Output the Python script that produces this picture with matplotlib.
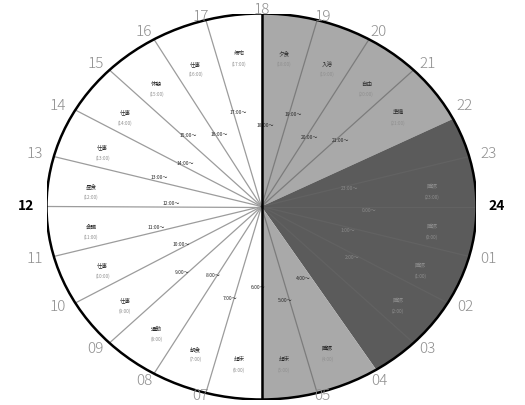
import matplotlib.pyplot as plt
import numpy as np
from matplotlib.patches import Ellipse, Wedge

plt.rcParams['font.family'] = ['Noto Sans CJK JP', 'DejaVu Sans']

# hour labels round the clock face (18 at the top, 24 on the right; 06 sits below the picture)
HOURS = [19, 20, 21, 22, 23, 24, 1, 2, 3, 4, 5, 7, 8, 9, 10, 11, 12, 13, 14, 15, 16, 17, 18]
HOUR_LABELS = ['19', '20', '21', '22', '23', '24', '01', '02', '03', '04', '05',
               '07', '08', '09', '10', '11', '12', '13', '14', '15', '16', '17', '18']

# shaded segments of the day (start hour, end hour)
SEG_START = [18.0, 22.2, 3.85, 6.0]
SEG_END = [22.2, 3.85, 6.0, 18.0]
SEG_COLORS = ['#a9a9a9', '#5b5b5b', '#a9a9a9', 'white']

# hour divider lines inside the shaded parts and the white half
DIVIDERS_LIGHT = [19, 20, 21, 5]
DIVIDERS_DARK = [23, 24, 1, 2, 3]
DIVIDERS_WHITE = [7, 8, 9, 10, 11, 12, 13, 14, 15, 16, 17]

# small notes written into each hour slot
SLOT_HOURS = [6, 7, 8, 9, 10, 11, 12, 13, 14, 15, 16, 17, 18, 19, 20, 21, 23, 0, 1, 2, 4, 5]
SLOT_NAMES = ['起床', '朝食', '通勤', '仕事', '仕事', '会議', '昼食', '仕事', '仕事', '休憩', '仕事',
              '帰宅', '夕食', '入浴', '自由', '準備', '睡眠', '睡眠', '睡眠', '睡眠', '睡眠', '起床']


def angle(h: float) -> float:
    return 90 - (h - 18) * 15  # clock hour -> degrees (counter-clockwise from the right)


def main() -> None:
    fig = plt.figure(figsize=(5.25, 4.05), dpi=100)
    ax = fig.add_axes([46.5 / 525, 5.5 / 405, 430 / 525, 386 / 405])  # the ellipse's bounding box
    ax.set_xlim(-1, 1)
    ax.set_ylim(-1, 1)
    ax.axis('off')

    for s, e, c in zip(SEG_START, SEG_END, SEG_COLORS):
        dur = (e - s) % 24
        a2 = angle(s)
        ax.add_patch(Wedge((0, 0), 1, a2 - dur * 15, a2, facecolor=c, edgecolor='none', zorder=1))

    for hours, col in ((DIVIDERS_WHITE, '#9c9c9c'), (DIVIDERS_LIGHT, '#7c7c7c'), (DIVIDERS_DARK, '#626262')):
        for h in hours:
            t = np.radians(angle(h))
            ax.plot([0, np.cos(t)], [0, np.sin(t)], color=col, lw=0.9, zorder=2)

    # notes inside the slots
    for i, (h, name) in enumerate(zip(SLOT_HOURS, SLOT_NAMES)):
        t = np.radians(angle(h + 0.5))
        dark = 22 <= h or h < 4
        tc = '#8a8a8a' if dark else '#2a2a2a'
        ax.text(0.8 * np.cos(t), 0.8 * np.sin(t), name, fontsize=4, color=tc,
                ha='center', va='center', zorder=3)
        ax.text(0.8 * np.cos(t), 0.8 * np.sin(t) - 0.055, f'({h}:00)', fontsize=3.4, color='#8f8f8f',
                ha='center', va='center', zorder=3)
        r = 0.42 + 0.08 * (i % 2)
        t2 = np.radians(angle(h + 0.15))
        ax.text(r * np.cos(t2), r * np.sin(t2), f'{h}:00〜', fontsize=3.6, color=tc,
                ha='center', va='center', zorder=3)

    ax.plot([0, 0], [-1, 1], color='black', lw=1.8, zorder=4)  # the black midline
    ax.add_patch(Ellipse((0, 0), 2, 2, facecolor='none', edgecolor='black', lw=1.8, zorder=5))

    for h, lab in zip(HOURS, HOUR_LABELS):
        t = np.radians(angle(h))
        bold = lab in ('12', '24')
        dy = 8 * np.sin(t) if abs(np.sin(t)) < 0.9 else 3 * np.sin(t)  # keep the top/bottom ones on the page
        ax.annotate(lab, (np.cos(t), np.sin(t)), xytext=(20 * np.cos(t), dy),
                    textcoords='offset pixels', ha='center', va='center',
                    fontsize=10 if bold else 11, fontweight='bold' if bold else 'light',
                    color='black' if bold else '#8f8f8f', annotation_clip=False, zorder=6)

    fig.savefig('out.png', dpi=100)


if __name__ == '__main__':
    main()
